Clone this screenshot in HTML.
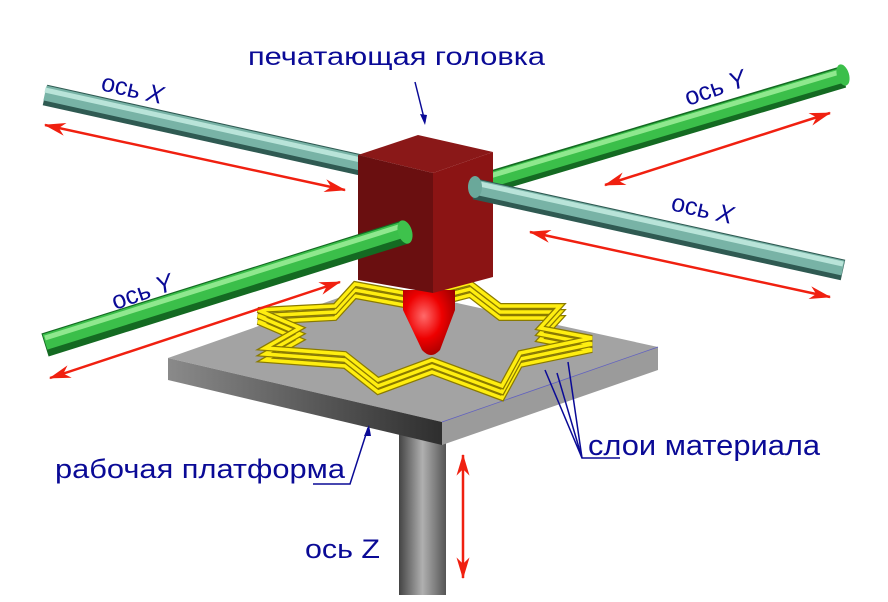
<!DOCTYPE html>
<html><head><meta charset="utf-8"><style>
html,body{margin:0;padding:0;background:#fff;}
svg{display:block}
text{font-family:"Liberation Sans",sans-serif;fill:#0a0a96;}
</style></head><body>
<svg width="888" height="602" viewBox="0 0 888 602" xmlns="http://www.w3.org/2000/svg">
<defs>
<linearGradient id="pole" x1="0" y1="0" x2="1" y2="0"><stop offset="0" stop-color="#444"/><stop offset="0.5" stop-color="#b0b0b0"/><stop offset="1" stop-color="#555"/></linearGradient>
<linearGradient id="plfront" x1="0" y1="0" x2="1" y2="0"><stop offset="0" stop-color="#8a8a8a"/><stop offset="1" stop-color="#2e2e2e"/></linearGradient>
<radialGradient id="noz" cx="0.4" cy="0.4" r="0.7"><stop offset="0" stop-color="#ff6a6a"/><stop offset="0.5" stop-color="#ee0000"/><stop offset="1" stop-color="#900"/></radialGradient>
<marker id="ah" viewBox="0 0 20 12" refX="19" refY="6" markerWidth="22" markerHeight="13" orient="auto-start-reverse" markerUnits="userSpaceOnUse"><path d="M0,0 L20,6 L0,12 L6,6z" fill="#f02010"/></marker>
</defs>

<!-- pole -->
<rect x="399" y="430" width="47" height="165" fill="url(#pole)"/>

<!-- back rods -->
<g>
<line x1="45" y1="95" x2="370" y2="167" stroke="#2f5a52" stroke-width="21"/>
<line x1="45" y1="93" x2="370" y2="165" stroke="#78b3a6" stroke-width="15"/>
<line x1="45" y1="90" x2="370" y2="162" stroke="#b9e4d9" stroke-width="5"/>
</g>
<g>
<line x1="490" y1="182" x2="843" y2="77" stroke="#146a22" stroke-width="22"/>
<line x1="490" y1="180" x2="843" y2="75" stroke="#3bbf4a" stroke-width="15"/>
<line x1="490" y1="176" x2="843" y2="71" stroke="#8fe88e" stroke-width="5"/>
<ellipse cx="843" cy="75" rx="6" ry="11" fill="#3bbf4a" transform="rotate(-17 843 75)"/>
</g>

<!-- platform -->
<polygon points="168,358 375,285 658,347 442,422" fill="#a3a3a3"/>
<polygon points="168,358 442,422 442,445 168,380" fill="url(#plfront)"/>
<polygon points="442,422 658,347 658,370 442,445" fill="#9b9b9b"/>
<line x1="442" y1="422" x2="658" y2="347" stroke="#6060c0" stroke-width="0.8"/>

<!-- star layers -->
<g fill="none" stroke-linejoin="miter">
<g id="st">
<polygon points="592,350 540,340 560,318 500,318 470,295 420,308 355,296 335,318 258,322 300,340 265,360 345,366 378,392 432,372 502,398 520,365" stroke="#8a7a00" stroke-width="6"/>
<polygon points="592,350 540,340 560,318 500,318 470,295 420,308 355,296 335,318 258,322 300,340 265,360 345,366 378,392 432,372 502,398 520,365" stroke="#ffee10" stroke-width="3.5"/>
</g>
<use href="#st" transform="translate(0,-6)"/>
<use href="#st" transform="translate(0,-12)"/>
</g>

<!-- nozzle -->
<path d="M403,290 L455,290 L455,310 L440,350 Q431,360 422,350 L403,310z" fill="url(#noz)"/>

<!-- cube -->
<polygon points="358,155 418,135 493,152 433,173" fill="#8a1818"/>
<polygon points="358,155 433,173 433,293 358,280" fill="#6a0f10"/>
<polygon points="433,173 493,152 493,277 433,293" fill="#8b1414"/>

<!-- front rods -->
<g>
<line x1="45" y1="345" x2="405" y2="232" stroke="#146a22" stroke-width="24"/>
<line x1="45" y1="342" x2="405" y2="229" stroke="#3bbf4a" stroke-width="16"/>
<line x1="45" y1="338" x2="405" y2="225" stroke="#8fe88e" stroke-width="5"/>
<ellipse cx="405" cy="232" rx="7" ry="12" fill="#3ec24c" transform="rotate(-17 405 232)"/>
</g>
<g>
<line x1="475" y1="189" x2="843" y2="270" stroke="#2f5a52" stroke-width="21"/>
<line x1="475" y1="187" x2="843" y2="268" stroke="#78b3a6" stroke-width="15"/>
<line x1="475" y1="183" x2="843" y2="264" stroke="#b9e4d9" stroke-width="5"/>
<ellipse cx="475" cy="187" rx="7" ry="11" fill="#6aa89a"/>
</g>

<!-- arrows -->
<g stroke="#f02010" stroke-width="2.5" marker-start="url(#ah)" marker-end="url(#ah)">
<line x1="45" y1="125" x2="345" y2="190"/>
<line x1="530" y1="232" x2="830" y2="297"/>
<line x1="50" y1="378" x2="340" y2="282"/>
<line x1="605" y1="185" x2="830" y2="113"/>
<line x1="463" y1="455" x2="463" y2="578"/>
</g>

<!-- pointers -->
<g stroke="#0a0a96" stroke-width="1.5" fill="none">
<line x1="415" y1="82" x2="425" y2="122"/>
<polyline points="313,484 350,484 368,428"/>
<polyline points="620,458 582,458 545,370"/>
<line x1="582" y1="458" x2="557" y2="373"/>
<line x1="582" y1="458" x2="568" y2="362"/>
</g>
<g fill="#0a0a96"><path d="M425,125 L420,114 L427,115z"/><path d="M369,425 L364,436 L371,436z"/></g>

<!-- labels -->
<text x="248" y="65" font-size="25" textLength="297" lengthAdjust="spacingAndGlyphs">печатающая головка</text>
<text x="100" y="90" font-size="25" transform="rotate(13 100 90)">ось <tspan font-style="italic">X</tspan></text>
<text x="688" y="106" font-size="25" transform="rotate(-19 688 106)">ось <tspan font-style="italic">Y</tspan></text>
<text x="670" y="210" font-size="25" transform="rotate(13 670 210)">ось <tspan font-style="italic">X</tspan></text>
<text x="115" y="310" font-size="25" transform="rotate(-19 115 310)">ось <tspan font-style="italic">Y</tspan></text>
<text x="55" y="478" font-size="27" textLength="290" lengthAdjust="spacingAndGlyphs">рабочая платформа</text>
<text x="588" y="455" font-size="29" textLength="232" lengthAdjust="spacingAndGlyphs">слои материала</text>
<text x="305" y="558" font-size="27" textLength="75" lengthAdjust="spacingAndGlyphs">ось Z</text>
</svg>
</body></html>
